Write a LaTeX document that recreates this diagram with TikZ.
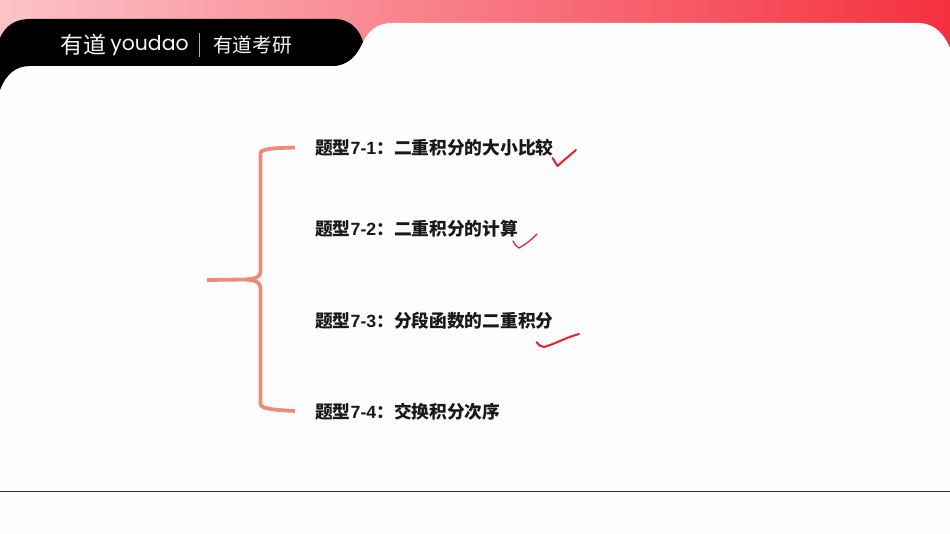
\documentclass[tikz,border=0pt]{standalone}
\usepackage{fontspec}
\setmainfont{Noto Sans CJK SC}
\newfontfamily\latinlogo{Poppins}
\newfontfamily\numfont{Liberation Sans}
\newcommand{\nm}[1]{{\numfont\bfseries #1}}
\definecolor{bracecol}{HTML}{EE8C7C}
\definecolor{tickred}{HTML}{E8202E}
\definecolor{pagewhite}{HTML}{FEFDFE}
\definecolor{gradl}{HTML}{FBC3C8}
\definecolor{gradm}{HTML}{F9747F}
\definecolor{gradr}{HTML}{F5303F}
\tikzset{
  item/.style={anchor=west,inner sep=0pt,font=\fontsize{17.8}{18}\selectfont\bfseries,text=black!90},
  logo/.style={anchor=center,inner sep=0pt,text=white!96!black},
  brace/.style={draw=bracecol,line width=3.8pt,line cap=butt,line join=round},
  tickmark/.style={draw=tickred,line width=2pt,line cap=round,line join=round}
}
\begin{document}
\begin{tikzpicture}[x=1bp,y=-1bp]
\useasboundingbox (0,0) rectangle (950,534);
% top gradient band
\shade[left color=gradl,middle color=gradm,right color=gradr] (0,0) rectangle (950,60);
% white page
\fill[pagewhite] (0,90) .. controls (6,74) and (16,66) .. (30,66) -- (335,66)
  .. controls (352,64) and (358,52) .. (363,42)
  .. controls (369,30) and (378,23) .. (392,23) -- (920,23)
  .. controls (935,24) and (944,34) .. (950,48) -- (950,534) -- (0,534) -- cycle;
% black tab
\fill[black] (0,38) .. controls (5,26) and (15,19) .. (30,19) -- (335,19)
  .. controls (350,19) and (360,30) .. (363,42)
  .. controls (358,52) and (352,64) .. (335,66) -- (30,66)
  .. controls (16,66) and (6,74) .. (0,90) -- cycle;
% logo
\node[logo,font=\fontsize{23}{23}\selectfont] (logoa) at (83,45) {有道};
\node[logo,font=\latinlogo\fontsize{20.5}{20.5}\selectfont] (logob) at (149.5,46) {youdao};
\fill[white!70!black] (198.7,33) rectangle (199.7,57);
\node[logo,font=\fontsize{19.8}{20}\selectfont] (logoc) at (252.5,45) {有道考研};
% items
\node[item] (t1) at (315,148) {题型\nm{7-1}：二重积分的大小比较};
\node[item] (t2) at (315,229) {题型\nm{7-2}：二重积分的计算};
\node[item] (t3) at (315,320.5) {题型\nm{7-3}：分段函数的二重积分};
\node[item] (t4) at (315,411.5) {题型\nm{7-4}：交换积分次序};
% brace
\draw[brace] (295,147.5) .. controls (280,148) and (263,148) .. (260.5,152.5) -- (260.5,272)
  .. controls (260.5,277) and (255,279) .. (245,279.5) -- (207,280);
\draw[brace] (245,279.5) .. controls (255,280) and (260.5,282) .. (260.5,288) -- (260.5,404)
  .. controls (261,409) and (275,410) .. (295,411);
% ticks
\draw[tickmark] (552.5,158) -- (557.5,166) .. controls (563,161) and (570,155) .. (576,150);
\draw[tickmark,line width=1.3pt] (513,241) .. controls (515,245) and (517,247) .. (519,248) .. controls (525,245) and (531,240) .. (537,234);
\draw[tickmark] (536.5,342) .. controls (538,345) and (541,347) .. (544,347) .. controls (555,344) and (567,337) .. (579,334);
% bottom rule
\draw[black!80,line width=1pt] (0,491.5) -- (950,491.5);
\end{tikzpicture}
\end{document}
